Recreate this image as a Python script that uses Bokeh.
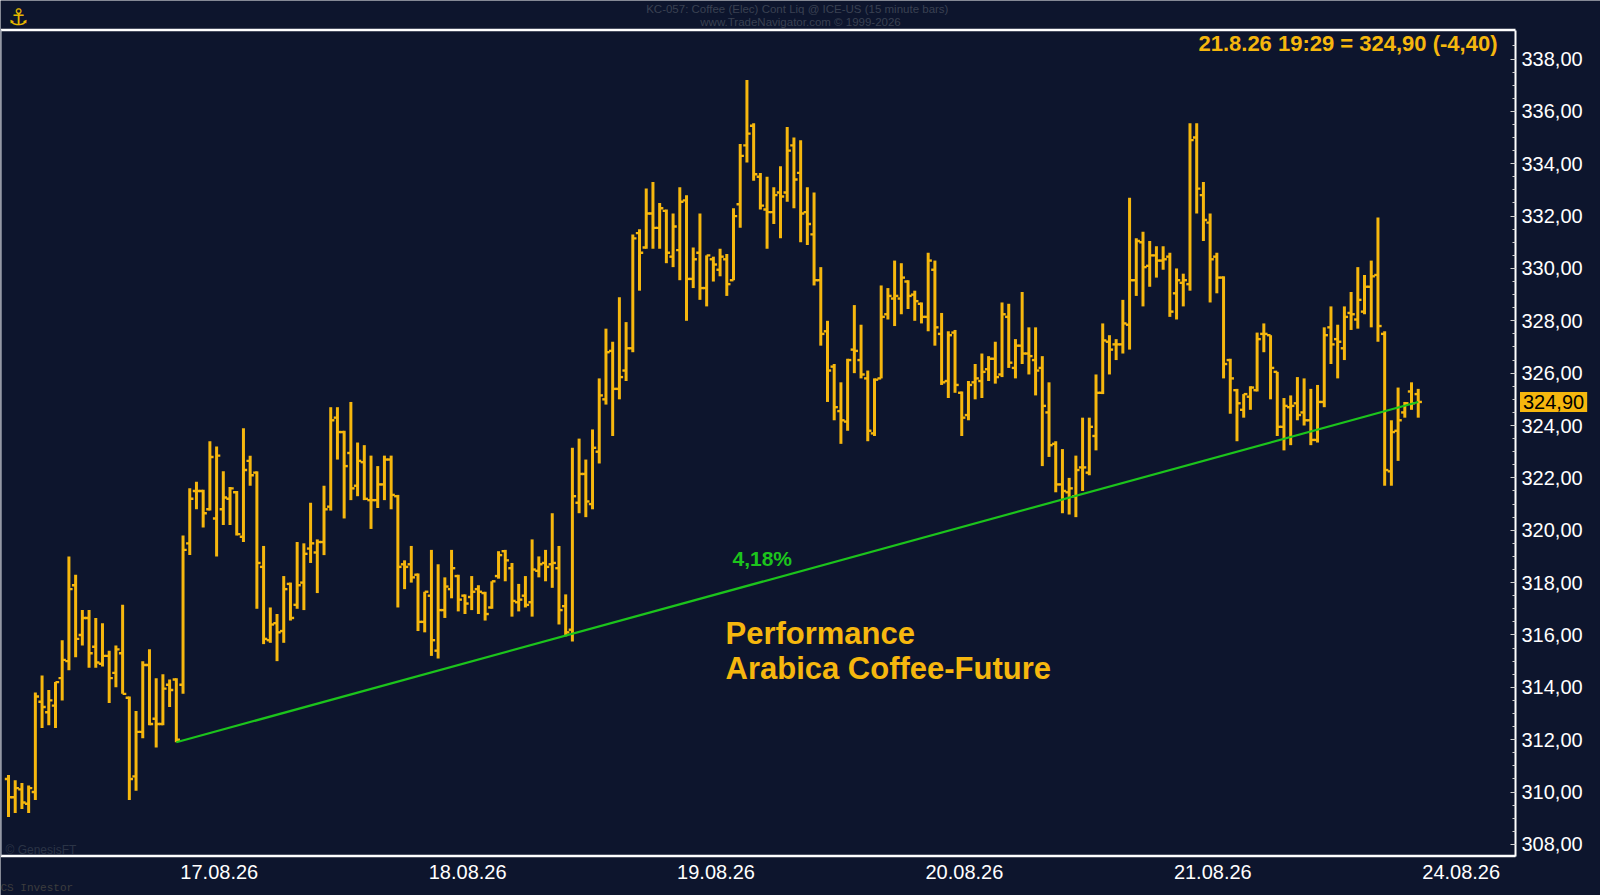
from bokeh.plotting import figure
from bokeh.models import Range1d, FixedTicker, Label, ColumnDataSource
from bokeh.embed import file_html
from bokeh.resources import INLINE

# ---------------- data (15-minute OHLC bars, KC coffee) ----------------
opens = [310.50, 309.80, 310.10, 309.55, 310.00, 313.45, 313.05, 313.30, 314.35, 315.00,
         317.90, 316.00, 316.65, 315.55, 314.90, 315.20, 314.55, 315.30, 313.60, 310.60,
         312.30, 314.85, 312.80, 312.60, 314.10, 314.30, 314.10, 319.50, 321.50, 321.50,
         320.80, 320.45, 320.80, 321.20, 321.45, 319.75, 322.65, 322.20, 318.60, 315.80,
         316.45, 316.15, 317.95, 317.15, 318.00, 319.30, 319.15, 319.55, 320.90, 324.30,
         323.75, 322.95, 321.70, 322.60, 321.15, 321.15, 321.75, 322.70, 321.30, 318.70,
         318.70, 318.30, 316.50, 317.50, 315.40, 316.95, 317.75, 318.25, 317.50, 317.45,
         317.75, 317.60, 317.05, 318.25, 319.20, 318.55, 317.25, 317.50, 317.25, 318.45,
         318.75, 318.70, 318.55, 317.10, 316.20, 321.05, 322.15, 321.00, 323.00, 325.00,
         326.85, 325.40, 326.10, 326.95, 331.35, 330.80, 332.10, 331.55, 332.20, 330.45,
         330.70, 332.60, 329.60, 330.60, 329.25, 330.35, 329.95, 330.35, 329.55, 332.45,
         334.70, 335.45, 333.50, 332.25, 332.15, 332.90, 332.90, 334.70, 333.65, 332.15,
         331.30, 329.55, 327.60, 326.25, 324.55, 324.15, 326.90, 326.50, 325.80, 323.70,
         325.80, 328.25, 328.85, 328.85, 329.50, 329.00, 328.65, 328.15, 329.95, 327.50,
         325.70, 327.55, 325.25, 324.40, 325.65, 325.70, 326.15, 326.55, 325.95, 328.15,
         326.20, 327.05, 326.75, 326.50, 326.20, 324.50, 323.30, 321.75, 321.45, 321.30,
         322.40, 322.20, 323.60, 325.25, 327.20, 327.10, 327.10, 327.85, 329.55, 331.00,
         330.10, 330.50, 330.30, 330.45, 329.05, 329.45, 329.40, 335.00, 332.80, 331.75,
         330.45, 329.65, 326.50, 325.35, 324.60, 325.10, 325.35, 327.50, 327.45, 326.05,
         323.95, 324.70, 324.85, 324.50, 324.20, 323.45, 324.90, 327.75, 327.30, 326.95,
         328.30, 328.05, 328.35, 329.30, 329.75, 327.50, 322.25, 323.80, 324.50, 325.30,
         325.20]
highs = [310.65, 310.45, 310.35, 310.25, 313.80, 314.45, 313.90, 314.20, 315.80, 319.00,
         318.30, 316.95, 316.95, 316.65, 316.45, 315.40, 315.60, 317.15, 313.65, 313.10,
         315.00, 315.45, 314.35, 314.50, 314.30, 314.35, 319.80, 321.60, 321.85, 321.55,
         323.40, 323.20, 322.25, 321.65, 321.50, 323.90, 322.85, 322.25, 319.40, 317.05,
         316.80, 318.25, 318.00, 319.55, 319.50, 321.05, 319.65, 321.70, 324.70, 324.70,
         323.80, 324.90, 323.35, 323.25, 322.85, 322.45, 322.85, 322.85, 321.35, 318.85,
         319.40, 318.35, 317.65, 319.25, 318.70, 318.20, 319.25, 318.30, 317.55, 318.25,
         317.90, 317.65, 318.05, 319.20, 319.25, 318.75, 317.95, 318.25, 319.65, 319.00,
         319.25, 320.65, 319.40, 317.55, 323.15, 323.50, 322.70, 323.85, 325.80, 327.70,
         327.20, 328.90, 327.95, 331.30, 331.50, 333.05, 333.30, 332.50, 332.25, 332.10,
         333.10, 332.80, 330.80, 332.10, 330.50, 330.45, 330.75, 330.55, 332.30, 334.75,
         337.20, 335.55, 333.65, 333.50, 333.10, 333.90, 335.40, 335.00, 334.90, 333.10,
         332.90, 330.05, 328.00, 326.35, 325.65, 326.55, 328.60, 327.85, 326.10, 325.80,
         329.35, 329.25, 330.30, 330.20, 329.55, 329.15, 328.70, 330.60, 330.30, 328.30,
         327.60, 327.65, 325.30, 325.70, 326.35, 326.75, 326.65, 327.20, 328.70, 328.65,
         327.30, 329.10, 327.75, 327.75, 326.65, 325.65, 323.40, 323.10, 322.00, 322.85,
         324.30, 324.30, 325.95, 327.90, 327.45, 327.30, 328.80, 332.70, 331.15, 331.40,
         331.05, 330.85, 330.85, 330.60, 330.00, 329.80, 335.55, 335.55, 333.30, 332.10,
         330.60, 329.70, 326.55, 325.40, 325.20, 325.50, 327.55, 327.90, 327.45, 326.05,
         325.05, 325.15, 325.85, 325.80, 325.40, 325.55, 327.75, 328.55, 327.85, 328.55,
         329.10, 330.05, 329.75, 330.30, 331.95, 327.60, 324.20, 325.45, 324.90, 325.65,
         325.40]
lows = [309.05, 309.20, 309.35, 309.20, 309.70, 312.45, 312.55, 312.45, 313.50, 314.65,
        315.15, 315.60, 314.75, 314.75, 314.80, 313.40, 314.00, 313.75, 309.70, 310.05,
        312.05, 312.55, 311.70, 312.55, 313.25, 311.90, 313.75, 319.05, 320.80, 320.10,
        320.75, 319.00, 320.20, 320.20, 319.80, 319.55, 321.70, 317.00, 315.65, 315.70,
        315.00, 315.70, 316.55, 317.00, 316.95, 318.75, 317.60, 319.05, 320.75, 322.70,
        320.45, 321.15, 321.30, 321.15, 320.05, 320.85, 321.15, 320.80, 317.05, 317.75,
        318.00, 316.15, 316.10, 315.20, 315.10, 316.65, 317.40, 316.90, 316.80, 316.95,
        316.80, 316.55, 317.00, 318.15, 318.05, 316.70, 316.90, 317.05, 316.70, 318.20,
        318.05, 317.80, 316.40, 315.95, 315.75, 320.65, 320.50, 320.80, 322.55, 324.80,
        323.60, 325.00, 325.70, 326.80, 329.15, 330.75, 330.75, 330.75, 330.20, 330.05,
        329.55, 328.00, 329.25, 328.80, 328.55, 329.50, 329.70, 328.95, 329.55, 331.55,
        334.05, 333.35, 332.25, 330.75, 331.70, 331.15, 332.55, 332.30, 331.00, 330.90,
        329.35, 327.05, 324.90, 324.20, 323.30, 323.80, 326.00, 325.80, 323.40, 323.60,
        325.80, 328.05, 327.80, 328.25, 328.45, 328.00, 327.90, 327.60, 327.05, 325.55,
        325.05, 325.25, 323.60, 324.20, 325.00, 325.05, 325.70, 325.60, 325.85, 326.20,
        325.80, 326.35, 325.95, 325.15, 322.45, 322.80, 321.45, 320.65, 320.60, 320.50,
        321.50, 322.10, 323.05, 325.20, 325.95, 326.50, 326.75, 326.90, 328.95, 328.55,
        329.30, 329.65, 329.95, 328.15, 328.05, 328.55, 329.15, 332.10, 331.05, 328.70,
        329.05, 325.80, 324.45, 323.40, 324.30, 324.60, 325.30, 326.80, 325.00, 323.60,
        323.05, 323.25, 324.20, 324.00, 323.25, 323.35, 324.70, 326.35, 325.80, 326.50,
        327.65, 327.70, 328.25, 327.75, 327.20, 321.70, 321.70, 322.65, 324.30, 324.60,
        324.30]
closes = [309.80, 310.15, 309.60, 310.15, 313.65, 313.25, 313.50, 314.20, 315.05, 317.75,
          315.85, 316.65, 315.30, 314.95, 315.20, 314.35, 315.45, 313.75, 310.50, 312.30,
          314.85, 312.60, 312.60, 313.95, 313.90, 312.00, 319.25, 321.20, 321.50, 320.65,
          322.80, 322.85, 321.25, 321.60, 319.85, 322.30, 322.10, 318.75, 315.85, 316.40,
          316.10, 317.75, 316.65, 317.90, 319.10, 319.50, 319.55, 320.80, 324.20, 323.75,
          322.45, 321.60, 322.65, 321.20, 321.15, 321.75, 322.70, 321.35, 318.60, 318.60,
          318.20, 316.50, 317.65, 315.80, 316.95, 317.85, 318.55, 317.35, 317.20, 317.65,
          317.65, 316.80, 318.05, 319.05, 318.85, 317.30, 317.35, 317.15, 318.50, 318.70,
          318.60, 318.75, 316.95, 316.10, 321.30, 322.15, 321.10, 323.15, 325.15, 326.80,
          325.40, 325.85, 326.95, 331.15, 330.60, 332.10, 331.55, 332.30, 330.60, 331.60,
          332.55, 329.60, 330.35, 329.25, 330.50, 330.15, 330.45, 329.40, 332.00, 334.30,
          335.15, 333.60, 332.40, 332.15, 332.80, 332.75, 334.50, 333.40, 332.10, 331.70,
          329.55, 327.50, 326.10, 324.70, 324.20, 326.50, 326.85, 325.95, 323.80, 325.75,
          328.15, 328.95, 328.95, 329.65, 328.95, 328.75, 328.15, 330.30, 327.75, 325.65,
          327.45, 325.55, 324.30, 325.55, 325.80, 326.05, 326.55, 325.85, 328.25, 326.40,
          327.05, 326.75, 326.65, 326.10, 324.75, 323.25, 321.75, 321.50, 321.60, 322.30,
          322.40, 323.95, 325.25, 327.25, 326.90, 327.10, 327.90, 329.55, 331.05, 330.05,
          330.50, 330.30, 330.35, 328.35, 329.55, 329.55, 334.90, 333.05, 331.85, 330.35,
          329.65, 326.35, 325.80, 324.85, 325.20, 325.45, 327.30, 327.50, 326.20, 323.95,
          324.75, 324.75, 324.40, 324.20, 323.45, 324.90, 327.45, 327.10, 327.20, 328.15,
          328.25, 328.80, 329.30, 329.70, 327.80, 322.30, 323.75, 324.20, 324.85, 324.85,
          324.90]

day_labels = ["17.08.26", "18.08.26", "19.08.26", "20.08.26", "21.08.26", "24.08.26"]
day_start_bar = [26, 63, 100, 137, 174, 211]

price_ticks = [308, 310, 312, 314, 316, 318, 320, 322, 324, 326, 328, 330, 332, 334, 336, 338]
price_tick_labels = ["308,00", "310,00", "312,00", "314,00", "316,00", "318,00", "320,00", "322,00",
                     "324,00", "326,00", "328,00", "330,00", "332,00", "334,00", "336,00", "338,00"]

trend_start_bar = 25          # trend line from this bar's low ...
trend_end_bar = 210           # ... to the last bar's close
trend_label = "4,18%"

title_line1 = "KC-057:  Coffee (Elec) Cont Liq @ ICE-US  (15 minute bars)"
title_line2 = "www.TradeNavigator.com \u00a9 1999-2026"
quote_text = "21.8.26 19:29 = 324,90 (-4,40)"
last_price_text = "324,90"
headline1 = "Performance"
headline2 = "Arabica Coffee-Future"

# ---------------- layout / styling ----------------
BG = "#0d152d"
BAR = "#f6b70e"
GREEN = "#1cc41c"
FONT = "Liberation Sans"

W, H = 1600, 895
BAR_PX = 6.713          # horizontal pixels per bar
FIRST_BAR_PX = 8        # pixel position of bar 0
PX_PER_UNIT = 26.18     # vertical pixels per price unit
REF_PRICE, REF_PX = 338.0, 58.5
AXIS_PX = 1515          # right price axis
TOP_PX, BOTTOM_PX = 29.5, 855.5


def px_x(px):
    return (px - FIRST_BAR_PX) / BAR_PX


def px_y(py):
    return REF_PRICE - (py - REF_PX) / PX_PER_UNIT


n = len(closes)
idx = list(range(n))
src = ColumnDataSource(dict(
    x=idx,
    xl=[i - 0.55 for i in idx],
    xr=[i + 0.55 for i in idx],
    o=opens, h=highs, l=lows, c=closes,
))

p = figure(width=W, height=H, output_backend="svg", toolbar_location=None, title=None,
           x_range=Range1d(px_x(0), px_x(W)), y_range=Range1d(px_y(H), px_y(0)),
           y_axis_location="right", min_border=0,
           min_border_left=0, min_border_right=0, min_border_top=0, min_border_bottom=0,
           background_fill_color=BG, border_fill_color=BG, outline_line_color=None)
p.grid.visible = False

x_left, x_axis = px_x(0.5), px_x(AXIS_PX)
y_top, y_bot = px_y(TOP_PX), px_y(BOTTOM_PX)

# chart frame lines
p.line([x_left, x_axis], [y_top, y_top], line_color="white", line_width=2.5)
p.line([x_left, x_axis], [y_bot, y_bot], line_color="white", line_width=2.5)
p.line([x_left, x_left], [y_bot, y_top], line_color="#b8bcc6", line_width=1.2)

# OHLC bars
p.segment(x0="x", y0="l", x1="x", y1="h", source=src, line_color=BAR, line_width=3)
p.segment(x0="xl", y0="o", x1="x", y1="o", source=src, line_color=BAR, line_width=2.4)
p.segment(x0="x", y0="c", x1="xr", y1="c", source=src, line_color=BAR, line_width=2.4)

# trend line
p.line([trend_start_bar, trend_end_bar], [lows[trend_start_bar], closes[trend_end_bar]],
       line_color=GREEN, line_width=2.2)

# right price axis
ya = p.yaxis[0]
ya.fixed_location = x_axis
ya.bounds = (y_bot, y_top)
ya.ticker = FixedTicker(ticks=price_ticks, minor_ticks=[v / 2 for v in range(616, 678)])
ya.major_label_overrides = {t: s for t, s in zip(price_ticks, price_tick_labels)}
ya.axis_line_color = "white"
ya.axis_line_width = 2
ya.major_tick_in = 5
ya.major_tick_out = 0
ya.minor_tick_in = 3
ya.minor_tick_out = 0
ya.major_tick_line_color = "#d0d0d0"
ya.minor_tick_line_color = "#d0d0d0"
ya.major_label_text_color = "white"
ya.major_label_text_font = FONT
ya.major_label_text_font_size = "20px"
ya.major_label_standoff = 6

# bottom date axis
xa = p.xaxis[0]
xa.fixed_location = y_bot
xa.bounds = (x_left, x_axis)
xt = [round(d + 5.4, 1) for d in day_start_bar]
xa.ticker = FixedTicker(ticks=xt, minor_ticks=[])
xa.major_label_overrides = {t: s for t, s in zip(xt, day_labels)}
xa.axis_line_color = None
xa.major_tick_line_color = None
xa.minor_tick_line_color = None
xa.major_label_text_color = "white"
xa.major_label_text_font = FONT
xa.major_label_text_font_size = "20px"
xa.major_label_standoff = 3


def lab(text, px, py, size, color, align="left", style="normal", font=FONT, **kw):
    p.add_layout(Label(x=px_x(px), y=px_y(py), text=text,
                       text_font=font, text_font_size=size, text_color=color,
                       text_align=align, text_baseline="middle", text_font_style=style, **kw))


lab(title_line1, 800, 8.5, "11.5px", "#3a4152", align="center")
lab(title_line2, 800, 21.5, "11.5px", "#3a4152", align="center")
lab("\u2693", 18, 16, "23px", "#e6b800", align="center", font="DejaVu Sans")
lab(quote_text, 1497, 42.5, "22px", BAR, align="right", style="bold")
lab(trend_label, 732, 558, "21px", GREEN, style="bold")
lab(headline1, 725, 633, "31px", BAR, style="bold")
lab(headline2, 725, 668, "31px", BAR, style="bold")
lab("\u00a9 GenesisFT", 5, 849, "12px", "#2b3446")
lab("CS Investor", 0, 887, "11px", "#3d3d3d", font="Liberation Mono")

price_box = dict(text_font=FONT, text_font_size="20px", text_color="black",
                 text_align="left", text_baseline="middle",
                 background_fill_color=BAR, background_fill_alpha=1.0)
pad = 0
if "padding" in Label.properties():
    pad = 3
    price_box["padding"] = pad
p.add_layout(Label(x=px_x(AXIS_PX + 1.5 + pad), y=closes[-1], text=last_price_text, **price_box))

open("out.html", "w").write(file_html(p, INLINE))
